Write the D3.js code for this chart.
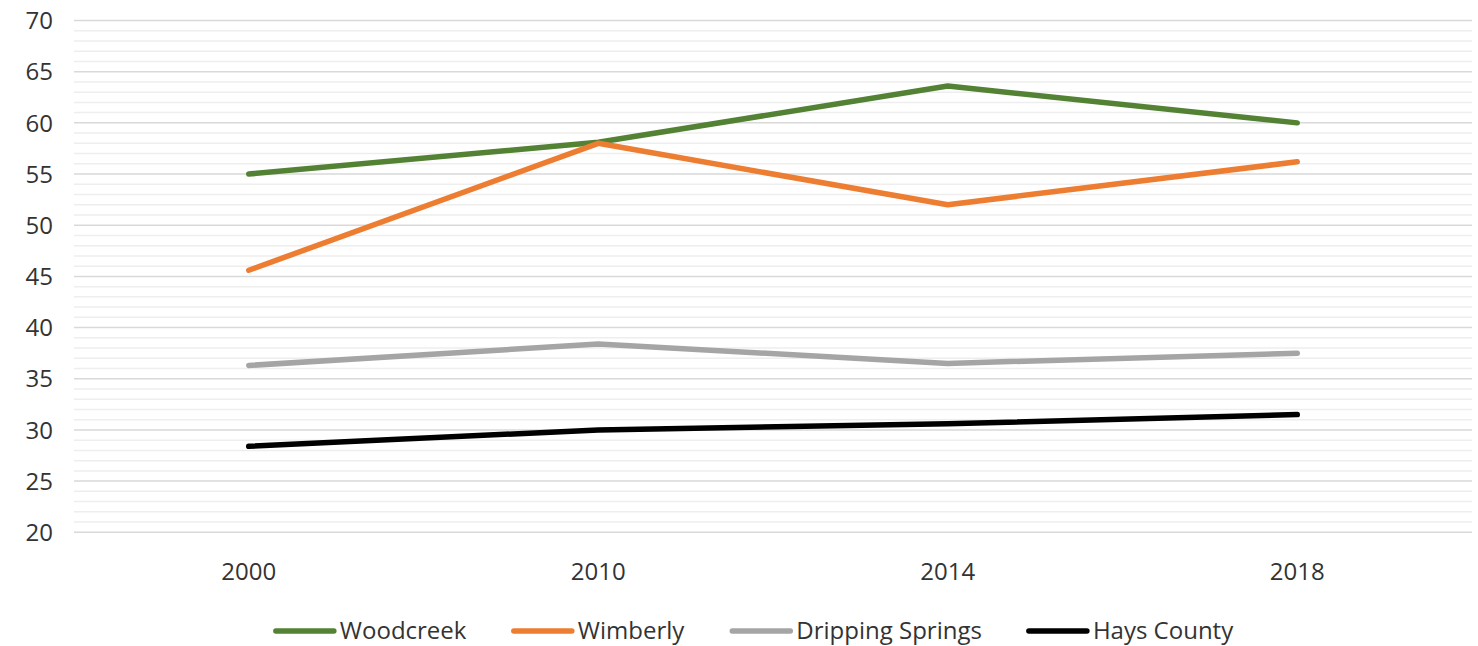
<!DOCTYPE html>
<html><head><meta charset="utf-8">
<script src="https://cdn.jsdelivr.net/npm/d3@7"></script>
<style>html,body{margin:0;padding:0;background:#fff;}svg{display:block;}</style>
</head><body>
<svg id="chart" width="1478" height="646"></svg>
<script>
const years = ["2000", "2010", "2014", "2018"];
const seriesNames = ["Woodcreek", "Wimberly", "Dripping Springs", "Hays County"];
const woodcreek = [55.0, 58.1, 63.6, 60.0];
const wimberly = [45.6, 58.0, 52.0, 56.2];
const drippingSprings = [36.3, 38.4, 36.5, 37.5];
const haysCounty = [28.4, 30.0, 30.6, 31.5];
const colors = ["#548235", "#ED7D31", "#A5A5A5", "#000000"];
const yTicks = [20, 25, 30, 35, 40, 45, 50, 55, 60, 65, 70];

const series = [woodcreek, wimberly, drippingSprings, haysCounty].map((v, i) => ({
  name: seriesNames[i], color: colors[i], values: v
}));

const svg = d3.select("#chart");
const pLeft = 74, pRight = 1472, pTop = 20.5, pBottom = 532.3;
const font = "'Open Sans', sans-serif";

const x = d3.scaleBand().domain(years).range([pLeft, pRight]);
const y = d3.scaleLinear().domain([20, 70]).range([pBottom, pTop]);

// minor grid
const minor = d3.range(20, 71, 1).filter(v => v % 5 !== 0);
svg.append("g").selectAll("line").data(minor).join("line")
  .attr("x1", pLeft).attr("x2", pRight)
  .attr("y1", d => y(d)).attr("y2", d => y(d))
  .attr("stroke", "#eeeeee").attr("stroke-width", 1.5);
// major grid
svg.append("g").selectAll("line").data(yTicks).join("line")
  .attr("x1", pLeft).attr("x2", pRight)
  .attr("y1", d => y(d)).attr("y2", d => y(d))
  .attr("stroke", "#d9d9d9").attr("stroke-width", 1.5);

// y axis labels
const yAxis = svg.append("g").attr("transform", `translate(${pLeft - 21},0)`)
  .call(d3.axisLeft(y).tickValues(yTicks).tickSize(0).tickPadding(0));
yAxis.select(".domain").remove();
yAxis.selectAll("text").attr("font-family", font).attr("font-size", 24)
  .attr("fill", "#333333").attr("dy", "0.34em");

// x axis labels
const xAxis = svg.append("g").attr("transform", `translate(0,${pBottom + 27})`)
  .call(d3.axisBottom(x).tickSize(0).tickPadding(0));
xAxis.select(".domain").remove();
xAxis.selectAll("text").attr("font-family", font).attr("font-size", 24)
  .attr("fill", "#333333").attr("dy", "0.85em");

// lines
const line = d3.line()
  .x((d, i) => x(years[i]) + x.bandwidth() / 2)
  .y(d => y(d));
svg.append("g").selectAll("path").data(series).join("path")
  .attr("d", d => line(d.values))
  .attr("fill", "none").attr("stroke", d => d.color)
  .attr("stroke-width", 5.5).attr("stroke-linecap", "round").attr("stroke-linejoin", "round");

// legend
const legend = svg.append("g");
const items = legend.selectAll("g").data(series).join("g");
items.append("line").attr("x1", 0).attr("x2", 58).attr("y1", 0).attr("y2", 0)
  .attr("stroke", d => d.color).attr("stroke-width", 5.5).attr("stroke-linecap", "round");
items.append("text").attr("x", 64).attr("y", 0).attr("dy", "0.35em")
  .attr("font-family", font).attr("font-size", 24).attr("fill", "#333333")
  .text(d => d.name);
const gap = 47;
let widths = [];
items.each(function() { widths.push(this.getBBox().width); });
const total = d3.sum(widths) + gap * (widths.length - 1);
let cx = 755 - total / 2;
items.each(function(d, i) {
  d3.select(this).attr("transform", `translate(${cx},631)`);
  cx += widths[i] + gap;
});
</script>
</body></html>
